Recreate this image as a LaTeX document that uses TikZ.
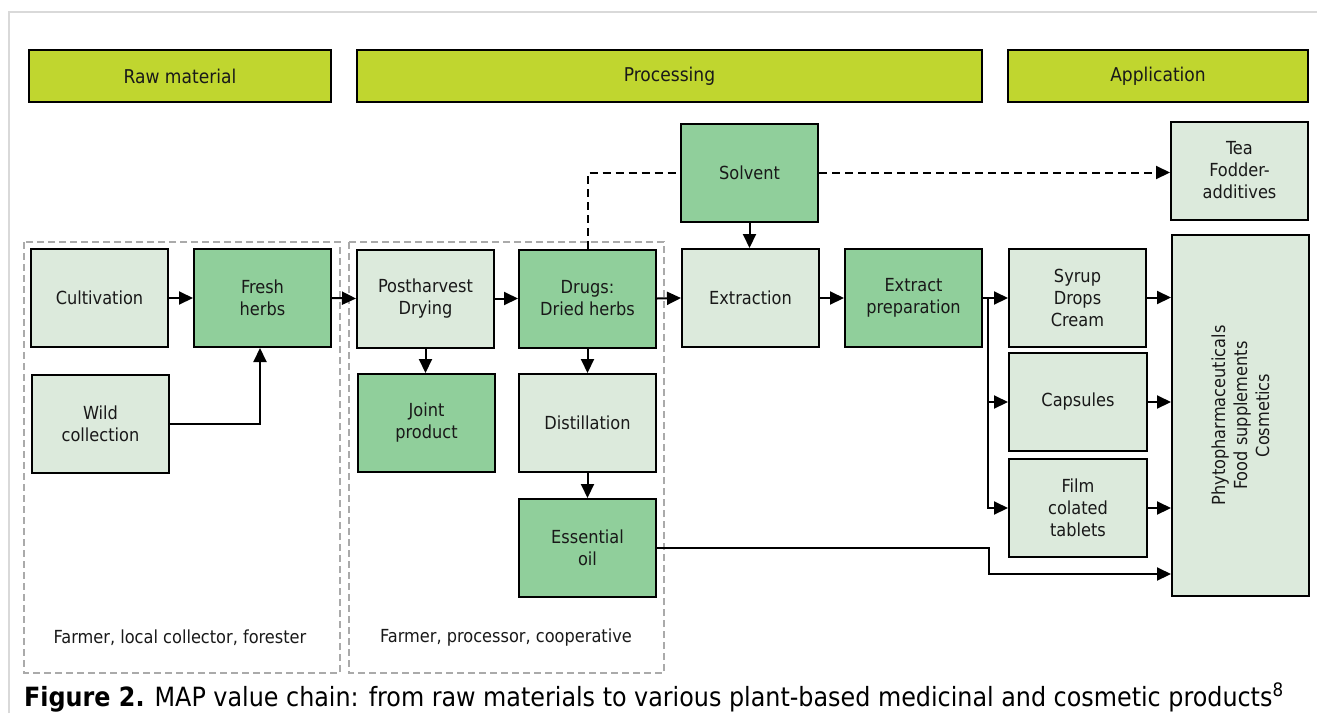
\documentclass[tikz,border=0pt]{standalone}
\usepackage{fontspec}
\setmainfont{DejaVu Sans Condensed}
\usetikzlibrary{arrows.meta}
\definecolor{hdr}{RGB}{192,214,47}
\definecolor{dkg}{RGB}{144,207,155}
\definecolor{ltg}{RGB}{220,234,220}
\definecolor{grp}{RGB}{170,170,170}
\definecolor{frm}{RGB}{217,217,217}
\definecolor{txt}{RGB}{25,25,25}
\begin{document}
\begin{tikzpicture}[x=1pt,y=-1pt,
  box/.style={draw=black, line width=2pt, minimum width=137pt, minimum height=98pt, inner sep=2pt, align=center, text=txt, font=\fontsize{18}{22}\selectfont},
  light/.style={box, fill=ltg},
  dark/.style={box, fill=dkg},
  hdrbox/.style={draw=black, line width=2pt, fill=hdr, minimum height=52pt, text=txt, font=\fontsize{19}{23}\selectfont},
  grpbox/.style={draw=grp, line width=1.5pt, dash pattern=on 7pt off 4pt},
  arr/.style={line width=2pt, -{Triangle[length=14pt,width=13pt]}},
  darr/.style={arr, dash pattern=on 8pt off 5pt},
  ln/.style={line width=2pt},
  dln/.style={line width=2pt, dash pattern=on 8pt off 5pt},
  lbl/.style={text=txt, font=\fontsize{18}{22}\selectfont}
]
\useasboundingbox (0,0) rectangle (1317,713);
\fill[white] (0,0) rectangle (1317,713);
\draw[frm, line width=2pt] (9,713) -- (9,12) -- (1317,12);

% headers
\node[hdrbox, minimum width=302pt] (h1) at (180,76) {Raw material};
\node[hdrbox, minimum width=625pt] (h2) at (669.5,76) {Processing};
\node[hdrbox, minimum width=300pt] (h3) at (1158,76) {Application};

% groups
\draw[grpbox] (24,242) rectangle (340,673);
\draw[grpbox] (349,242) rectangle (664,673);
\node[lbl] (g1) at (180,638) {Farmer, local collector, forester};
\node[lbl] (g2) at (506,638) {Farmer, processor, cooperative};

% boxes
\node[light] (cult) at (99.5,298) {Cultivation};
\node[dark] (fresh) at (262.5,298) {Fresh\\herbs};
\node[light] (wild) at (100.5,424) {Wild\\collection};
\node[light] (post) at (425.5,298.5) {Postharvest\\Drying};
\node[dark] (drugs) at (587.5,298.5) {Drugs:\\Dried herbs};
\node[dark] (joint) at (426.5,423) {Joint\\product};
\node[light] (dist) at (587.5,423) {Distillation};
\node[dark] (oil) at (587.5,548) {Essential\\oil};
\node[dark] (solvent) at (749.5,172.5) {Solvent};
\node[light] (extr) at (750.5,298) {Extraction};
\node[dark] (prep) at (913.5,298) {Extract\\preparation};
\node[light] (syrup) at (1077.5,297.5) {Syrup\\Drops\\Cream};
\node[light, minimum width=138pt] (caps) at (1078,402) {Capsules};
\node[light, minimum width=138pt] (film) at (1078,508) {Film\\colated\\tablets};
\node[light] (tea) at (1239.5,170.5) {Tea\\Fodder-\\additives};
\node[light, minimum height=361pt] (big) at (1240.5,415.5) {};
\node[rotate=90, align=center, lbl] (bigtxt) at (big.center) {Phytopharmaceuticals\\Food supplements\\Cosmetics};

% connectors
\draw[arr] (cult.east) -- (fresh.west);
\draw[arr] (wild.east) -- (wild.east -| 260,0) -- (260,0 |- fresh.south);
\draw[arr] (fresh.east) -- (post.west);
\draw[arr] (post.east) -- (drugs.west);
\draw[arr] (drugs.east) -- (extr.west);
\draw[arr] (extr.east) -- (prep.west);
\draw[arr] (post.south) -- (post.south |- joint.north);
\draw[arr] (drugs.south) -- (dist.north);
\draw[arr] (dist.south) -- (oil.north);
\draw[arr] (solvent.south) -- (solvent.south |- extr.north);
\draw[dln] (drugs.north) -- (drugs.north |- solvent.west) -- (solvent.west);
\draw[darr] (solvent.east) -- (tea.west |- solvent.east);
\coordinate (j) at (988,298);
\draw[arr] (prep.east) -- (syrup.west |- prep.east);
\draw[arr] (j) |- (caps.west);
\draw[arr] (j) |- (film.west);
\draw[arr] (syrup.east) -- (big.west |- syrup.east);
\draw[arr] (caps.east) -- (big.west |- caps.east);
\draw[arr] (film.east) -- (big.west |- film.east);
\coordinate (k1) at (oil.east -| 989,0);
\coordinate (k2) at (989,574);
\draw[arr] (oil.east) -- (k1) -- (k2) -- (k2 -| big.west);

% caption
\node[anchor=base west, inner sep=0pt, text=black, font=\fontsize{26.5}{30}\selectfont] (cap) at (24,706) {\textbf{Figure 2.} MAP value chain: from raw materials to various plant-based medicinal and cosmetic products\textsuperscript{8}};
\end{tikzpicture}
\end{document}
